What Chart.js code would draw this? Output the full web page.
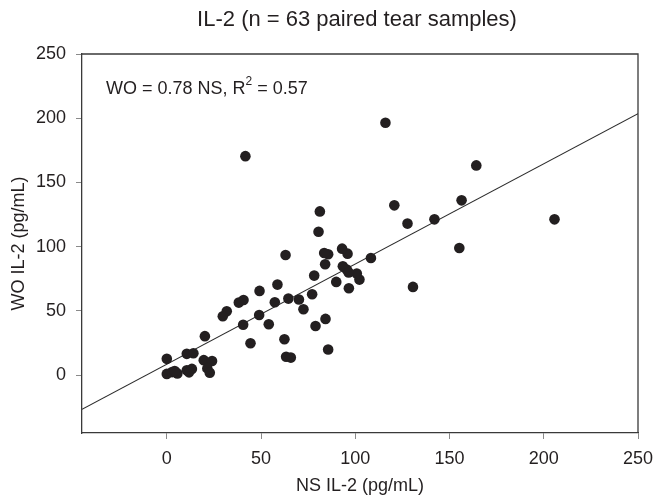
<!DOCTYPE html>
<html>
<head>
<meta charset="utf-8">
<script src="https://cdn.jsdelivr.net/npm/chart.js@4"></script>
<style>
  html, body { margin: 0; padding: 0; background: #fff; }
  #wrap { width: 663px; height: 498px; }
</style>
</head>
<body>
<div id="wrap"><canvas id="c" width="663" height="498"></canvas></div>
<script>
// Paired IL-2 concentrations (pg/mL): nasal swab (NS) vs. whole-eye (WO) tear samples
const nsValues = [
  205.7, 164.2, 156.4, 155.2, 142.0, 127.7, 130.6, 120.7, 116.0, 108.3,
  102.2, 100.8, 96.6, 95.5, 93.4, 95.9, 93.0, 89.9, 85.6, 83.5,
  84.0, 81.2, 80.5, 78.2, 77.1, 72.5, 70.1, 64.5, 63.0, 58.7,
  57.3, 54.1, 49.2, 49.0, 44.4, 41.7, 40.5, 40.7, 38.2, 31.8,
  29.7, 84.2, 78.9, 62.4, 85.6, 63.3, 65.8, 20.2, 10.6, 14.1,
  0.0, 19.6, 24.0, 21.5, 22.8, 0.0, 2.8, 5.6, 10.6, 13.3,
  11.8, 4.2, 96.5
];
const woValues = [
  121.3, 163.3, 136.1, 99.0, 121.3, 118.0, 68.7, 132.2, 196.5, 91.2,
  74.4, 79.1, 67.7, 82.2, 84.8, 94.6, 98.5, 72.6, 94.1, 95.1,
  86.3, 127.5, 111.7, 77.5, 63.0, 51.3, 58.9, 59.6, 93.6, 70.5,
  56.8, 39.7, 65.6, 46.9, 24.8, 170.5, 39.2, 58.5, 56.5, 49.8,
  45.9, 43.8, 38.3, 28.0, 20.0, 14.3, 13.7, 30.4, 16.6, 17.1,
  12.7, 11.7, 11.1, 5.3, 1.9, 1.0, 2.4, 1.4, 3.9, 4.9,
  2.2, 3.2, 80.0
];

// Axis ranges and tick labels
const xRange = [-45, 250];
const yRange = [-45, 250];
const xTicks = [0, 50, 100, 150, 200, 250];
const yTicks = [0, 50, 100, 150, 200, 250];

// Fitted regression line
const fitSlope = 0.78;
const fitIntercept = 8.5;

const chartTitle = 'IL-2 (n = 63 paired tear samples)';
const xTitle = 'NS IL-2 (pg/mL)';
const yTitle = 'WO IL-2 (pg/mL)';
const fitLabelA = 'WO = ' + fitSlope.toFixed(2) + ' NS, R';
const fitLabelSup = '2';
const fitLabelB = ' = 0.57';

const FONT = "'Liberation Sans', Arial, sans-serif";
const INK = '#231f20';

const points = nsValues.map((x, i) => ({ x: x, y: woValues[i] }));
const fitLine = xRange.map(x => ({ x: x, y: fitSlope * x + fitIntercept }));

// Frame, title, regression label and axis titles
const decorations = {
  id: 'decorations',
  beforeDatasetsDraw(chart) {
    const { ctx, chartArea: a } = chart;
    ctx.save();
    ctx.strokeStyle = '#3a3a3a';
    ctx.lineWidth = 1.3;
    ctx.beginPath();
    ctx.moveTo(a.left, a.top);
    ctx.lineTo(a.right, a.top);
    ctx.lineTo(a.right, a.bottom);
    ctx.stroke();
    ctx.restore();
  },
  afterDraw(chart) {
    const { ctx, chartArea: a } = chart;
    const cx = (a.left + a.right) / 2;
    ctx.save();
    ctx.fillStyle = INK;
    ctx.textBaseline = 'middle';

    ctx.font = '22px ' + FONT;
    ctx.textAlign = 'center';
    ctx.fillText(chartTitle, cx - 3, 20);

    ctx.font = '18px ' + FONT;
    ctx.fillText(xTitle, cx, 486);

    ctx.save();
    ctx.translate(19, (a.top + a.bottom) / 2);
    ctx.rotate(-Math.PI / 2);
    ctx.fillText(yTitle, 0, 0);
    ctx.restore();

    ctx.textAlign = 'left';
    let x = a.left + 24;
    const y = 89;
    ctx.font = '18px ' + FONT;
    ctx.fillText(fitLabelA, x, y);
    x += ctx.measureText(fitLabelA).width;
    ctx.font = '12px ' + FONT;
    ctx.fillText(fitLabelSup, x, y - 7);
    x += ctx.measureText(fitLabelSup).width;
    ctx.font = '18px ' + FONT;
    ctx.fillText(fitLabelB, x, y);
    ctx.restore();
  }
};

new Chart(document.getElementById('c'), {
  type: 'scatter',
  data: {
    datasets: [
      {
        data: points,
        pointRadius: 5.3,
        pointHoverRadius: 5.3,
        pointBackgroundColor: INK,
        pointBorderWidth: 0,
        showLine: false
      },
      {
        data: fitLine,
        type: 'line',
        borderColor: '#2a2a2a',
        borderWidth: 1.1,
        pointRadius: 0,
        fill: false,
        tension: 0
      }
    ]
  },
  options: {
    responsive: false,
    animation: false,
    events: [],
    layout: { padding: { left: 0, top: 54, right: 25, bottom: 0 } },
    plugins: { legend: { display: false }, tooltip: { enabled: false }, title: { display: false } },
    scales: {
      x: {
        type: 'linear',
        min: xRange[0],
        max: xRange[1],
        afterBuildTicks(scale) { scale.ticks = xTicks.map(v => ({ value: v })); },
        afterFit(scale) { scale.height = 65; },
        grid: { drawOnChartArea: false, drawTicks: true, tickLength: 6, color: '#8a8a8a', lineWidth: 1 },
        border: { display: true, color: '#3a3a3a', width: 1.3 },
        ticks: { color: INK, font: { family: FONT, size: 18 }, padding: 9, maxRotation: 0 }
      },
      y: {
        type: 'linear',
        min: yRange[0],
        max: yRange[1],
        afterBuildTicks(scale) { scale.ticks = yTicks.map(v => ({ value: v })); },
        afterFit(scale) { scale.width = 82; },
        grid: { drawOnChartArea: false, drawTicks: true, tickLength: 6, color: '#8a8a8a', lineWidth: 1 },
        border: { display: true, color: '#3a3a3a', width: 1.3 },
        ticks: { color: INK, font: { family: FONT, size: 18 }, padding: 10 }
      }
    }
  },
  plugins: [decorations]
});
</script>
</body>
</html>
